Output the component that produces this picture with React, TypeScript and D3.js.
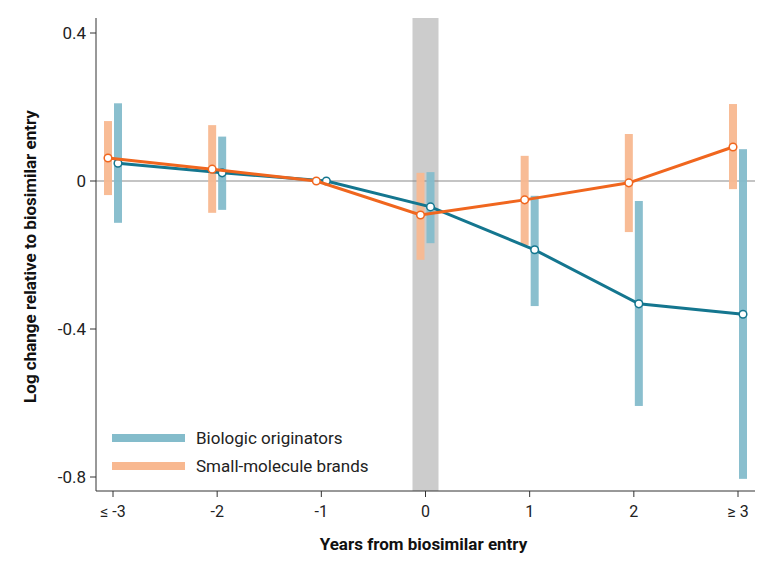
import * as d3 from 'd3'

const categories = ['≤ -3', '-2', '-1', '0', '1', '2', '≥ 3']
const yTicks = [0.4, 0, -0.4, -0.8]

const bioEst = [0.048, 0.022, 0, -0.07, -0.186, -0.332, -0.36]
const bioLo = [-0.113, -0.078, 0, -0.168, -0.338, -0.608, -0.805]
const bioHi = [0.21, 0.12, 0, 0.024, -0.04, -0.054, 0.086]

const smEst = [0.062, 0.032, 0, -0.092, -0.051, -0.005, 0.092]
const smLo = [-0.038, -0.086, 0, -0.213, -0.173, -0.138, -0.022]
const smHi = [0.162, 0.151, 0, 0.022, 0.068, 0.127, 0.208]

const W = 775
const H = 580
const left = 96
const right = 755
const top = 18
const bottom = 491

const x = d3.scalePoint<string>().domain(categories).range([113, 738])
const y = d3.scaleLinear().domain([-0.8, 0.4]).range([477, 33])

const series = [
  { name: 'Biologic originators', est: bioEst, lo: bioLo, hi: bioHi, line: '#14768f', ci: '#84bccb', dx: 5 },
  { name: 'Small-molecule brands', est: smEst, lo: smLo, hi: smHi, line: '#f0661e', ci: '#f8b890', dx: -5 },
]

export default function App() {
  const font = 'Roboto, sans-serif'
  return (
    <svg width={W} height={H} style={{ display: 'block', margin: -8 }} fontFamily={font}>
      <rect width={W} height={H} fill="#fff" />
      <rect x={x('0')! - 13} y={top} width={26} height={bottom - top} fill="#cccccc" />
      <line x1={left} x2={right} y1={y(0)} y2={y(0)} stroke="#8a8a8a" strokeWidth={1.2} />
      {series.map((s) => (
        <g key={s.name + 'ci'}>
          {categories.map((c, i) =>
            s.lo[i] === s.hi[i] ? null : (
              <rect
                key={c}
                x={x(c)! + s.dx - 4}
                y={y(s.hi[i])}
                width={8}
                height={y(s.lo[i]) - y(s.hi[i])}
                fill={s.ci}
                opacity={0.95}
              />
            )
          )}
        </g>
      ))}
      {series.map((s) => {
        const line = d3
          .line<number>()
          .x((_, i) => x(categories[i])! + s.dx)
          .y((d) => y(d))
        return (
          <g key={s.name}>
            <path d={line(s.est)!} fill="none" stroke={s.line} strokeWidth={3} />
            {s.est.map((v, i) => (
              <circle key={i} cx={x(categories[i])! + s.dx} cy={y(v)} r={3.8} fill="#fff" stroke={s.line} strokeWidth={1.5} />
            ))}
          </g>
        )
      })}
      <line x1={left} x2={left} y1={top} y2={bottom} stroke="#333" />
      <line x1={left} x2={right} y1={bottom} y2={bottom} stroke="#333" />
      {yTicks.map((t) => (
        <g key={t}>
          <line x1={left - 6} x2={left} y1={y(t)} y2={y(t)} stroke="#333" />
          <text x={left - 10} y={y(t)} dy="0.35em" textAnchor="end" fontSize={17} fill="#222">
            {t === 0 ? '0' : t.toFixed(1)}
          </text>
        </g>
      ))}
      {categories.map((c) => (
        <g key={c}>
          <line x1={x(c)} x2={x(c)} y1={bottom} y2={bottom + 6} stroke="#333" />
          <text x={x(c)} y={bottom + 26} textAnchor="middle" fontSize={16} fill="#222">
            {c}
          </text>
        </g>
      ))}
      <text x={(left + right) / 2 - 2} y={550} textAnchor="middle" fontSize={17} fontWeight="bold" fill="#111">
        Years from biosimilar entry
      </text>
      <text
        transform={`translate(36,${(top + bottom) / 2 + 2}) rotate(-90)`}
        textAnchor="middle"
        fontSize={17}
        fontWeight="bold"
        fill="#111"
      >
        Log change relative to biosimilar entry
      </text>
      {series.map((s, i) => (
        <g key={s.name + 'leg'} transform={`translate(112,${438 + i * 28})`}>
          <line x1={0} x2={73} y1={0} y2={0} stroke={s.ci} strokeWidth={8} />
          <text x={84} y={0} dy="0.35em" fontSize={17} fill="#222">
            {s.name}
          </text>
        </g>
      ))}
    </svg>
  )
}
